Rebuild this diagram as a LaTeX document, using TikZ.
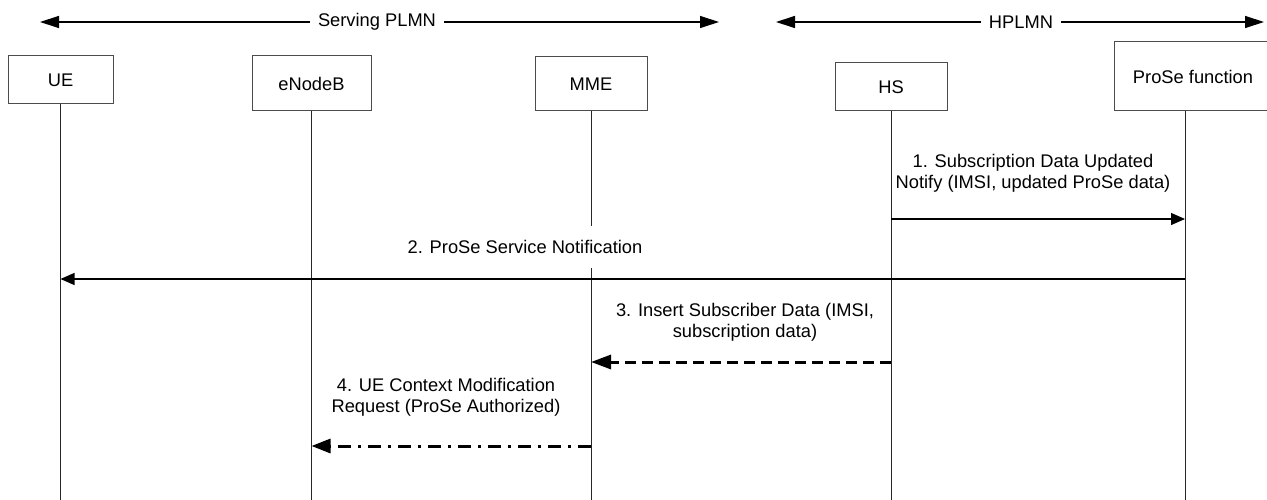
\documentclass[tikz,border=0pt]{standalone}
\usepackage{fontspec}
\setmainfont{Liberation Sans}
\usetikzlibrary{arrows.meta}
\begin{document}
\begin{tikzpicture}[x=1pt,y=-1pt,
  font=\fontsize{18.3}{21}\selectfont,
  ent/.style={draw=black!70, line width=1pt, inner sep=0pt, align=center, fill=white},
  life/.style={draw=black!85, line width=0.9pt},
  lbl/.style={align=center, inner sep=1pt},
  toparrow/.style={line width=1.2pt, {Triangle[length=19pt,width=12pt]}-{Triangle[length=19pt,width=12pt]}},
  msg/.style={line width=1.2pt, -{Triangle[length=14pt,width=12pt]}},
  dmsg/.style={line width=3pt, dash pattern=on 11pt off 6pt, -{Triangle[length=20pt,width=14pt]}},
  ddmsg/.style={line width=3pt, dash pattern=on 13pt off 7pt on 3pt off 7pt, -{Triangle[length=19pt,width=14pt]}}]
\useasboundingbox (0,0) rectangle (1267,500);
\clip (0,0) rectangle (1267,500);

% PLMN ranges
\coordinate (spL) at (40,22);
\coordinate (spR) at (719,22);
\coordinate (hpL) at (776,22);
\coordinate (hpR) at (1264,22);
\draw[toparrow] (spL) -- (spR);
\draw[toparrow] (hpL) -- (hpR);
\node[fill=white, inner xsep=8pt, inner ysep=2pt] (sp) at (377,22) {Serving PLMN};
\node[fill=white, inner xsep=8pt, inner ysep=2pt] (hp) at (1021,22) {HPLMN};

% entities
\node[ent, minimum width=105pt, minimum height=48pt] (ue) at (60.5,80) {UE};
\node[ent, minimum width=119pt, minimum height=55pt] (enb) at (311.5,83.5) {eNodeB};
\node[ent, minimum width=112pt, minimum height=54pt] (mme) at (591,84) {MME};
\node[ent, minimum width=112pt, minimum height=48pt] (hs) at (891,87) {HS};
\node[ent, minimum width=158pt, minimum height=69pt] (pf) at (1193,76.5) {ProSe function};

% lifelines
\coordinate (bottom) at (0,502);
\coordinate (pfl) at (1185,111);
\draw[life] (ue.south) -- (ue.south |- bottom);
\draw[life] (enb.south) -- (enb.south |- bottom);
\draw[life] (mme.south) -- (mme.south |- bottom);
\draw[life] (hs.south) -- (hs.south |- bottom);
\draw[life] (pfl) -- (pfl |- bottom);

% message levels
\coordinate (y1) at (0,219);
\coordinate (y2) at (0,279);
\coordinate (y3) at (0,362);
\coordinate (y4) at (0,446);

% 1
\node[lbl] (l1) at (1033,173) {1. Subscription Data Updated\\Notify (IMSI, updated ProSe data)};
\draw[msg] (hs.south |- y1) -- (pfl |- y1);

% 2
\node[lbl, fill=white, minimum height=42pt] (l2) at (525,247) {2. ProSe Service Notification};
\draw[msg] (pfl |- y2) -- (ue.south |- y2);

% 3
\node[lbl] (l3) at (745,322.5) {3. Insert Subscriber Data (IMSI,\\subscription data)};
\draw[dmsg] (hs.south |- y3) -- (mme.south |- y3);

% 4
\node[lbl] (l4) at (446,397.5) {4. UE Context Modification\\Request (ProSe Authorized)};
\draw[ddmsg] (mme.south |- y4) -- (enb.south |- y4);
\end{tikzpicture}
\end{document}
